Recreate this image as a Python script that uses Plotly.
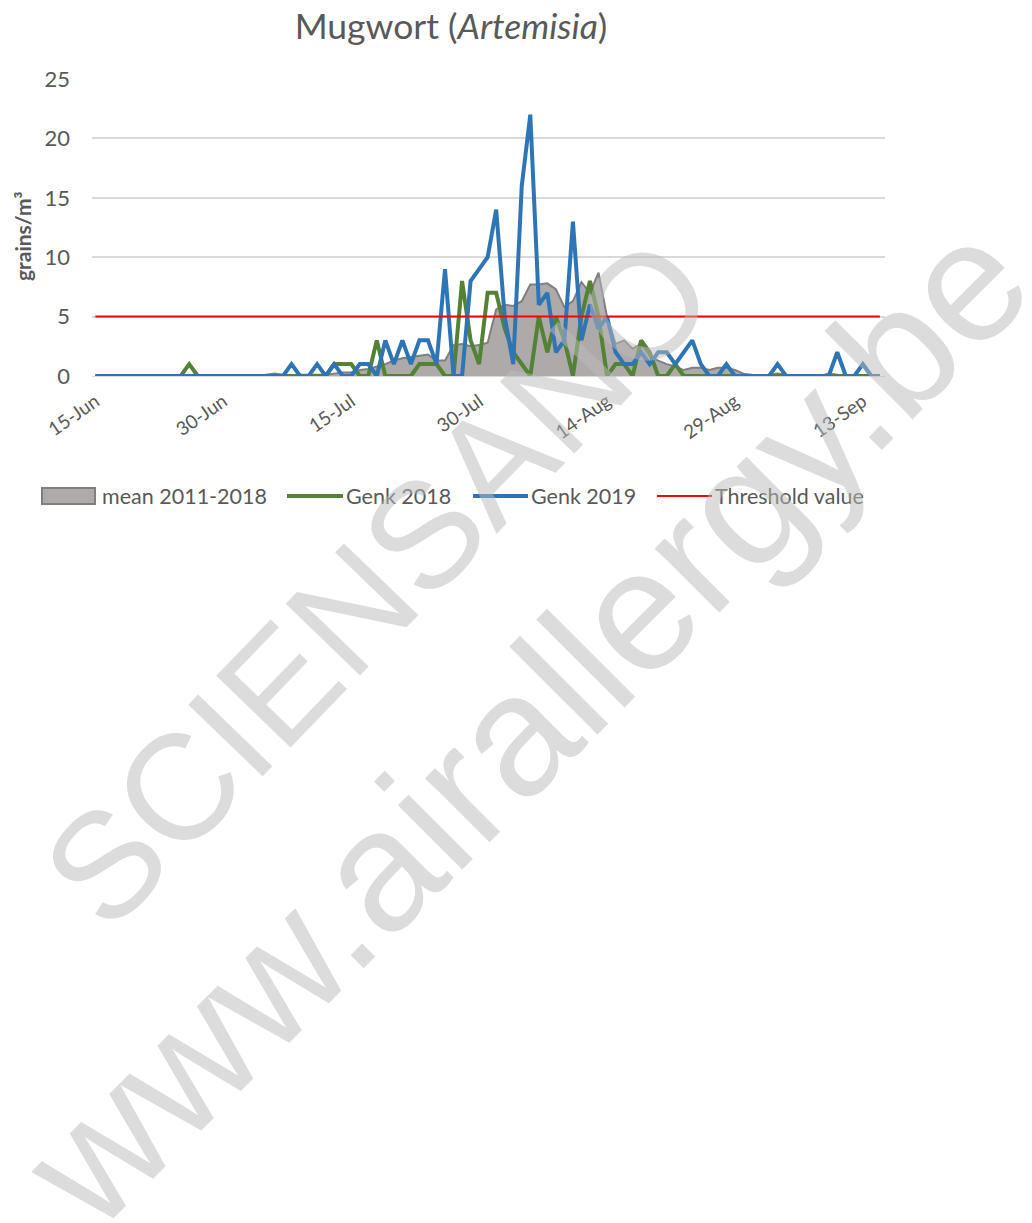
import pandas as pd
import plotly.graph_objects as go

# ---- data -------------------------------------------------------------
dates = pd.date_range("2019-06-15", "2019-09-15", freq="D")  # 93 days

mean_2011_2018 = [
    0, 0, 0, 0, 0, 0, 0, 0, 0, 0,            # 15-24 Jun
    0, 0, 0, 0, 0, 0, 0, 0, 0, 0,            # 25 Jun - 4 Jul
    0.1, 0.2, 0.1, 0, 0.1, 0.1, 0.1, 0.1, 0.2, 0.3,   # 5-14 Jul
    0.3, 0.5, 0.6, 0.8, 1.0, 1.3, 1.5, 1.6, 1.7, 1.8,  # 15-24 Jul
    1.3, 1.3, 2.6, 2.7, 2.5, 2.6, 2.8, 5.6, 6.0, 5.9,  # 25 Jul - 3 Aug
    6.3, 7.7, 7.7, 7.8, 7.3, 5.8, 6.3, 7.9, 7.0, 8.7,  # 4-13 Aug
    5.0, 2.7, 3.0, 2.3, 2.7, 1.7, 1.3, 1.0, 0.8, 0.5,  # 14-23 Aug
    0.7, 0.7, 0.5, 0.7, 0.7, 0.5, 0.2, 0.1, 0, 0.1,    # 24 Aug - 2 Sep
    0.2, 0.1, 0, 0, 0, 0, 0.2, 0.1, 0, 0,              # 3-12 Sep
    0, 0, 0,                                           # 13-15 Sep
]

genk_2018 = [
    0, 0, 0, 0, 0, 0, 0, 0, 0, 0,
    0, 1, 0, 0, 0, 0, 0, 0, 0, 0,
    0, 0, 0, 0, 0, 0, 0, 0, 1, 1,
    1, 0, 0, 3, 0, 0, 0, 0, 1, 1,
    1, 0, 0, 8, 3, 1, 7, 7, 4, 2,
    1, 0, 5, 2, 5, 3, 0, 5, 8, 5,
    0, 1, 1, 0, 3, 2, 0, 0, 1, 0,
    0, 0, 0, 0, 0, 0, 0, 0, 0, 0,
    0, 0, 0, 0, 0, 0, 0, 0, 0, 0,
    0, 0, 0,
]

genk_2019 = [
    0, 0, 0, 0, 0, 0, 0, 0, 0, 0,
    0, 0, 0, 0, 0, 0, 0, 0, 0, 0,
    0, 0, 0, 1, 0, 0, 1, 0, 1, 0,
    0, 1, 1, 0, 3, 1, 3, 1, 3, 3,
    1, 9, 0, 0, 8, 9, 10, 14, 5, 1,
    16, 22, 6, 7, 2, 3, 13, 3, 6, 4,
    5, 2, 1, 1, 2, 1, 2, 2, 1, 2,
    3, 1, 0, 0, 1, 0, 0, 0, 0, 0,
    1, 0, 0, 0, 0, 0, 0, 2, 0, 0,
    1, 0, 0,
]

threshold_value = 5
threshold = [threshold_value] * len(dates)

series_names = ["mean 2011-2018", "Genk 2018", "Genk 2019", "Threshold value"]
title_text = "Mugwort (<i>Artemisia</i>)"
y_title = "grains/m³"
watermarks = ["SCIENSANO", "www.airallergy.be"]

# ---- styling ----------------------------------------------------------
FONT = "Lato, 'Open Sans', sans-serif"
GREY_TXT = "#595959"
C_FILL, C_EDGE = "#AEAAAA", "#7F7F7F"
C_GREEN, C_BLUE, C_RED = "#548235", "#2E75B6", "#FF0000"

fig = go.Figure()
fig.add_trace(go.Scatter(
    x=dates, y=mean_2011_2018, name=series_names[0], mode="lines",
    fill="tozeroy", fillcolor=C_FILL, line=dict(color=C_EDGE, width=2),
))
fig.add_trace(go.Scatter(
    x=dates, y=genk_2018, name=series_names[1], mode="lines",
    line=dict(color=C_GREEN, width=4),
))
fig.add_trace(go.Scatter(
    x=dates, y=genk_2019, name=series_names[2], mode="lines",
    line=dict(color=C_BLUE, width=4),
))
fig.add_trace(go.Scatter(
    x=dates, y=threshold, name=series_names[3], mode="lines",
    line=dict(color=C_RED, width=2),
))

# reference-pixel geometry (body margin removed by post_script below)
W, H = 1032, 1223
L, R, T, B = 92, 885, 79, 376
pw, ph = R - L, B - T


def px(xp):
    return (xp - L) / pw


def py(yp):
    return (B - yp) / ph


fig.update_layout(
    width=W, height=H,
    margin=dict(l=L, r=W - R, t=T, b=H - B, pad=0),
    paper_bgcolor="white", plot_bgcolor="white",
    font=dict(family=FONT, color=GREY_TXT, size=20),
    title=dict(text=title_text, x=px(451), xref="paper", xanchor="center",
               y=1 - 27 / H, yref="container", yanchor="middle",
               font=dict(size=35.5, color=GREY_TXT, family=FONT)),
    showlegend=False,
    xaxis=dict(
        type="date",
        range=["2019-06-14 14:24", "2019-09-15 14:24"],
        tick0="2019-06-15", dtick=15 * 86400000,
        tickformat="%-d-%b", tickangle=-35,
        tickfont=dict(size=19, color=GREY_TXT),
        showgrid=False, showline=True, linecolor="#D9D9D9", linewidth=1,
        ticks="", zeroline=False, ticklabelstandoff=6,
    ),
    yaxis=dict(
        range=[0, 25], dtick=5, tick0=0,
        tickfont=dict(size=22, color=GREY_TXT),
        showgrid=True, gridcolor="#D9D9D9", gridwidth=2,
        zeroline=False, showline=False, ticks="",
        ticklabelstandoff=21,
    ),
)

fig.add_annotation(
    text=f"<b>{y_title}</b>", xref="paper", yref="paper",
    x=px(23), y=py(236), textangle=-90, showarrow=False,
    xanchor="center", yanchor="middle",
    font=dict(size=21, color=GREY_TXT, family=FONT),
)

# ---- legend (drawn by hand to match item spacing) ---------------------
leg_y = 496
legend_items = [
    # (kind, x0, x1, colour, width, text_x, label)
    ("box", 42, 95, C_FILL, 2, 100, series_names[0]),
    ("line", 287, 343, C_GREEN, 4, 344, series_names[1]),
    ("line", 473, 528, C_BLUE, 4, 529, series_names[2]),
    ("line", 657, 712, C_RED, 2, 713, series_names[3]),
]
for kind, x0, x1, col, lw, tx, label in legend_items:
    if kind == "box":
        fig.add_shape(type="rect", xref="paper", yref="paper",
                      x0=px(x0), x1=px(x1), y0=py(leg_y + 8), y1=py(leg_y - 8),
                      fillcolor=col, line=dict(color=C_EDGE, width=lw))
    else:
        fig.add_shape(type="line", xref="paper", yref="paper",
                      x0=px(x0), x1=px(x1), y0=py(leg_y), y1=py(leg_y),
                      line=dict(color=col, width=lw))
    fig.add_annotation(text=label, xref="paper", yref="paper",
                       x=px(tx), y=py(leg_y), xanchor="left", yanchor="middle",
                       showarrow=False,
                       font=dict(size=21.5, color=GREY_TXT, family=FONT))

# ---- watermark text (diagonal, runs to the page edges as in the source) --
fig.add_annotation(
    text=watermarks[0], xref="paper", yref="paper",
    x=px(378), y=py(582), textangle=-46, showarrow=False,
    xanchor="center", yanchor="middle",
    font=dict(size=150, color="rgba(185,185,185,0.5)",
              family="'Liberation Sans', Arial, sans-serif"),
)
fig.add_annotation(
    text=watermarks[1], xref="paper", yref="paper",
    x=px(525), y=py(722), textangle=-45, showarrow=False,
    xanchor="center", yanchor="middle",
    font=dict(size=172, color="rgba(185,185,185,0.5)",
              family="'Liberation Sans', Arial, sans-serif"),
)

fig.write_html("out.html",
               config={"displayModeBar": False},
               post_script="document.body.style.margin='0px';")
